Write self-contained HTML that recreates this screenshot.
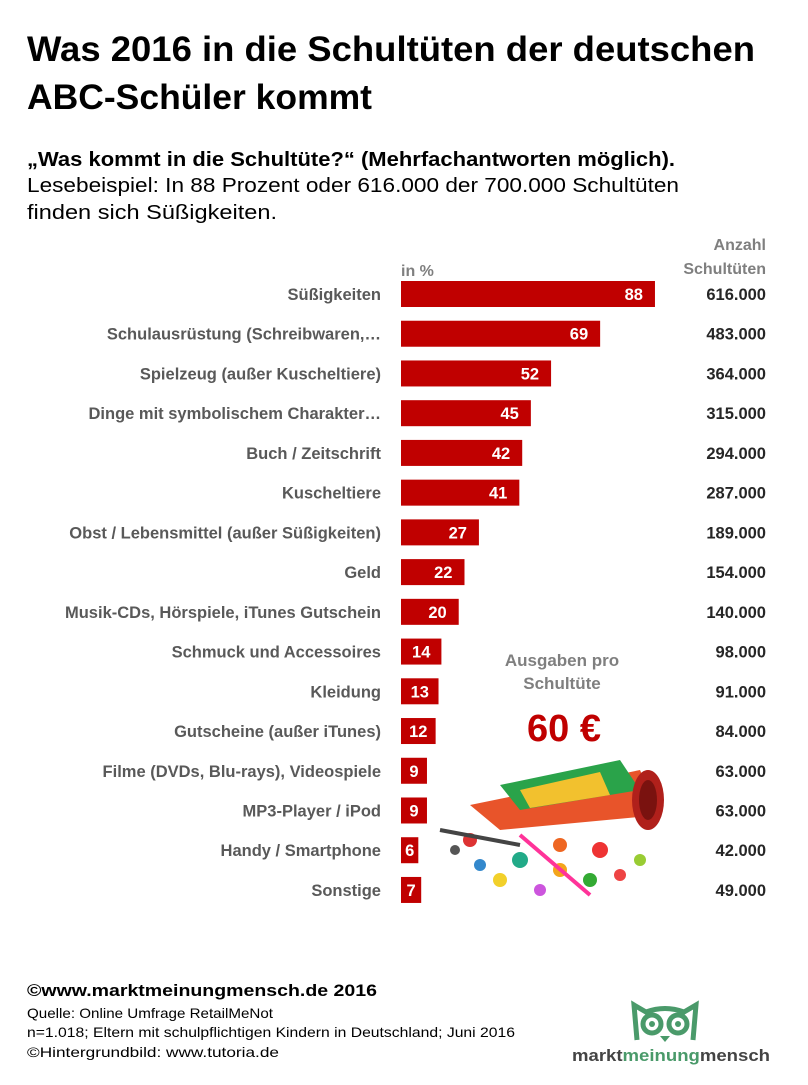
<!DOCTYPE html>
<html><head><meta charset="utf-8"><style>
body{margin:0;background:#fff}
svg text{font-family:"Liberation Sans",sans-serif}
</style></head><body>
<svg width="808" height="1080" viewBox="0 0 808 1080" xmlns="http://www.w3.org/2000/svg">
<rect width="808" height="1080" fill="#fff"/>
<text x="27" y="61" font-size="35" font-weight="bold" fill="#000" textLength="728" lengthAdjust="spacingAndGlyphs">Was 2016 in die Schultüten der deutschen</text>
<text x="27" y="109" font-size="35" font-weight="bold" fill="#000" textLength="345" lengthAdjust="spacingAndGlyphs">ABC-Schüler kommt</text>
<text x="27" y="166" font-size="20" font-weight="bold" fill="#000" textLength="648" lengthAdjust="spacingAndGlyphs">„Was kommt in die Schultüte?“ (Mehrfachantworten möglich).</text>
<text x="27" y="192" font-size="20" fill="#000" textLength="652" lengthAdjust="spacingAndGlyphs">Lesebeispiel: In 88 Prozent oder 616.000 der 700.000 Schultüten</text>
<text x="27" y="219" font-size="20" fill="#000" textLength="250" lengthAdjust="spacingAndGlyphs">finden sich Süßigkeiten.</text>
<text x="401" y="276" font-size="16" font-weight="bold" fill="#7f7f7f">in %</text>
<text x="766" y="250" font-size="16" font-weight="bold" fill="#7f7f7f" text-anchor="end">Anzahl</text>
<text x="766" y="274" font-size="16" font-weight="bold" fill="#7f7f7f" text-anchor="end">Schultüten</text>
<g font-size="16.5" font-weight="bold">
<g id="rows"></g>
</g>
<text x="562" y="666" font-size="17" font-weight="bold" fill="#7f7f7f" text-anchor="middle">Ausgaben pro</text>
<text x="562" y="689" font-size="17" font-weight="bold" fill="#7f7f7f" text-anchor="middle">Schultüte</text>
<text x="564" y="741" font-size="38" font-weight="bold" fill="#c00000" text-anchor="middle">60 €</text>
<!-- Schultüte illustration -->
<g>
<polygon points="470,805 640,770 660,815 500,830" fill="#e8542a"/>
<polygon points="500,785 620,760 640,790 520,810" fill="#2aa34a"/>
<polygon points="520,790 600,772 610,795 530,808" fill="#f2c12e"/>
<ellipse cx="648" cy="800" rx="16" ry="30" fill="#b0201b"/>
<ellipse cx="648" cy="800" rx="9" ry="20" fill="#7a120f"/>
<g fill="#d33">
<circle cx="470" cy="840" r="7"/><circle cx="520" cy="860" r="8" fill="#2a8"/><circle cx="560" cy="870" r="7" fill="#f3a51b"/>
<circle cx="600" cy="850" r="8" fill="#e33"/><circle cx="590" cy="880" r="7" fill="#3a3"/><circle cx="540" cy="890" r="6" fill="#c5d"/>
<circle cx="500" cy="880" r="7" fill="#f2d02a"/><circle cx="620" cy="875" r="6" fill="#e44"/><circle cx="480" cy="865" r="6" fill="#38c"/>
<circle cx="640" cy="860" r="6" fill="#9c3"/><circle cx="560" cy="845" r="7" fill="#e62"/><circle cx="455" cy="850" r="5" fill="#555"/>
</g>
<line x1="440" y1="830" x2="520" y2="845" stroke="#444" stroke-width="4"/>
<line x1="520" y1="835" x2="590" y2="895" stroke="#f39" stroke-width="4"/>
</g>
<text x="27" y="996" font-size="17" font-weight="bold" fill="#000" textLength="350" lengthAdjust="spacingAndGlyphs">©www.marktmeinungmensch.de 2016</text>
<text x="27" y="1018" font-size="14" fill="#000" textLength="246" lengthAdjust="spacingAndGlyphs">Quelle: Online Umfrage RetailMeNot</text>
<text x="27" y="1037" font-size="14" fill="#000" textLength="488" lengthAdjust="spacingAndGlyphs">n=1.018; Eltern mit schulpflichtigen Kindern in Deutschland; Juni 2016</text>
<text x="27" y="1057" font-size="14" fill="#000" textLength="252" lengthAdjust="spacingAndGlyphs">©Hintergrundbild: www.tutoria.de</text>
<!-- logo -->
<g fill="none" stroke="#4a9a6a" stroke-width="5">
<path d="M637,1040 L634,1005 L646,1012 Q665,1005 684,1012 L696,1005 L693,1040"/>
<circle cx="652" cy="1024" r="9"/><circle cx="678" cy="1024" r="9"/>
</g>
<circle cx="652" cy="1024" r="3" fill="#4a9a6a"/><circle cx="678" cy="1024" r="3" fill="#4a9a6a"/>
<polygon points="660,1036 670,1036 665,1042" fill="#4a9a6a"/>
<text x="572" y="1061" font-size="17" font-weight="bold" fill="#444" textLength="198" lengthAdjust="spacingAndGlyphs">markt<tspan fill="#4a9a6a">meinung</tspan>mensch</text>
</svg>
<script>
var d=[["Süßigkeiten",88,"616.000"],["Schulausrüstung (Schreibwaren,…",69,"483.000"],["Spielzeug (außer Kuscheltiere)",52,"364.000"],["Dinge mit symbolischem Charakter…",45,"315.000"],["Buch / Zeitschrift",42,"294.000"],["Kuscheltiere",41,"287.000"],["Obst / Lebensmittel (außer Süßigkeiten)",27,"189.000"],["Geld",22,"154.000"],["Musik-CDs, Hörspiele, iTunes Gutschein",20,"140.000"],["Schmuck und Accessoires",14,"98.000"],["Kleidung",13,"91.000"],["Gutscheine (außer iTunes)",12,"84.000"],["Filme (DVDs, Blu-rays), Videospiele",9,"63.000"],["MP3-Player / iPod",9,"63.000"],["Handy / Smartphone",6,"42.000"],["Sonstige",7,"49.000"]];
var g=document.getElementById("rows"),ns="http://www.w3.org/2000/svg",s="";
d.forEach(function(r,i){var c=294+i*39.73,w=r[1]*2.886;
s+='<text x="381" y="'+(c+6)+'" fill="#595959" text-anchor="end">'+r[0]+'</text>';
s+='<rect x="401" y="'+(c-13)+'" width="'+w+'" height="26" fill="#c00000"/>';
if(r[1]>=20)s+='<text x="'+(401+w-12)+'" y="'+(c+6)+'" fill="#fff" text-anchor="end">'+r[1]+'</text>';
else s+='<text x="'+(401+w/2)+'" y="'+(c+6)+'" fill="#fff" text-anchor="middle">'+r[1]+'</text>';
s+='<text x="766" y="'+(c+6)+'" fill="#262626" text-anchor="end">'+r[2]+'</text>';});
g.innerHTML=s;
</script>
</body></html>
